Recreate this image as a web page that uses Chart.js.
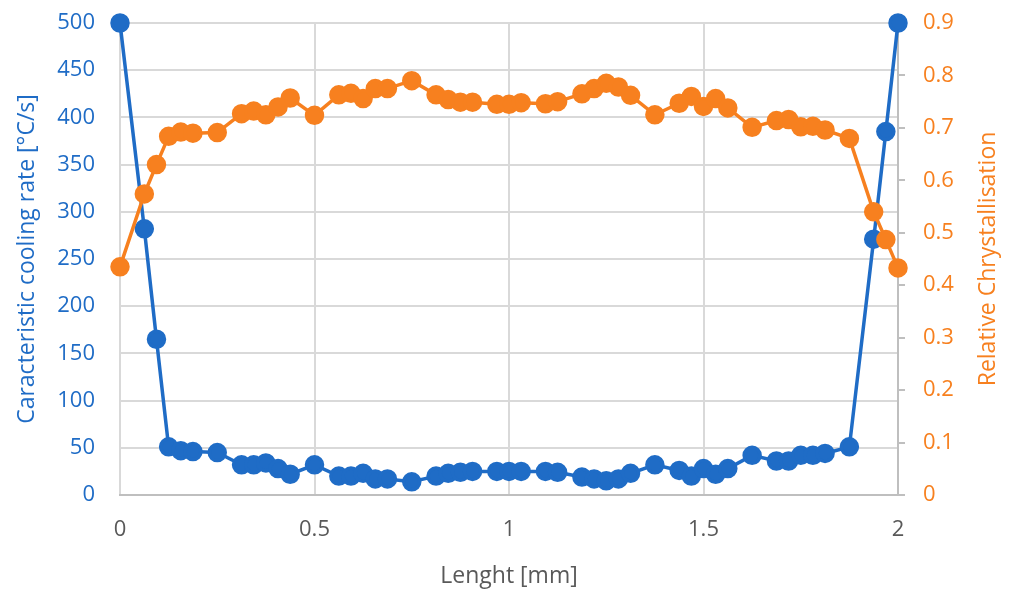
<!DOCTYPE html>
<html>
<head>
<meta charset="utf-8">
<script src="https://cdn.jsdelivr.net/npm/chart.js@4/dist/chart.umd.min.js"></script>
<style>
  html, body { margin: 0; padding: 0; background: #fff; }
  #wrap { width: 1012px; height: 590px; }
</style>
</head>
<body>
<div id="wrap"><canvas id="cooling"></canvas></div>
<script>
// positions along the sample [mm]
const lengthMm = [0, 0.0625, 0.09375, 0.125, 0.15625, 0.1875, 0.25, 0.3125, 0.34375, 0.375, 0.40625, 0.4375,
  0.5, 0.5625, 0.59375, 0.625, 0.65625, 0.6875, 0.75, 0.8125, 0.84375, 0.875, 0.90625, 0.96875,
  1, 1.03125, 1.09375, 1.125, 1.1875, 1.21875, 1.25, 1.28125, 1.3125, 1.375, 1.4375, 1.46875,
  1.5, 1.53125, 1.5625, 1.625, 1.6875, 1.71875, 1.75, 1.78125, 1.8125, 1.875, 1.9375, 1.96875, 2];

// cooling rate [°C/s]
const coolingRate = [500, 282, 165, 51, 47, 46, 45, 32, 32, 34, 28, 22,
  32, 20, 20, 23, 17, 17, 14, 20, 23, 24, 25, 25,
  25, 25, 25, 24, 19, 17, 15, 17, 23, 32, 26, 20,
  28, 22, 28, 42, 36, 36, 42, 42, 44, 51, 271, 385, 500];

// relative crystallisation
const crystallisation = [0.435, 0.574, 0.630, 0.684, 0.692, 0.690, 0.691, 0.727, 0.732, 0.725, 0.740, 0.757,
  0.724, 0.763, 0.766, 0.756, 0.775, 0.775, 0.790, 0.763, 0.754, 0.749, 0.749, 0.745,
  0.745, 0.748, 0.746, 0.750, 0.765, 0.775, 0.785, 0.778, 0.762, 0.725, 0.747, 0.760,
  0.741, 0.756, 0.738, 0.701, 0.714, 0.716, 0.702, 0.703, 0.696, 0.680, 0.540, 0.487, 0.433];

const blue = '#1f6cc6';
const orange = '#f7801f';
const fontFam = "'Open Sans', 'Liberation Sans', sans-serif";

const toXY = (ys) => ys.map((y, i) => ({ x: lengthMm[i], y }));

// right title reads bottom-to-top, so draw it ourselves
const rightTitle = {
  id: 'rightTitle',
  afterDraw(chart) {
    const c = chart.ctx;
    const a = chart.chartArea;
    c.save();
    c.translate(988, (a.top + a.bottom) / 2);
    c.rotate(-Math.PI / 2);
    c.font = '23px ' + fontFam;
    c.fillStyle = orange;
    c.textAlign = 'center';
    c.textBaseline = 'middle';
    c.fillText('Relative Chrystallisation', 0, 0);
    c.restore();
  }
};

new Chart(document.getElementById('cooling'), {
  type: 'line',
  data: {
    datasets: [
      {
        label: 'Relative Chrystallisation',
        data: toXY(crystallisation),
        yAxisID: 'y2',
        borderColor: orange,
        backgroundColor: orange,
        borderWidth: 3.5,
        pointRadius: 8,
        pointHoverRadius: 8,
        clip: false
      },
      {
        label: 'Caracteristic cooling rate',
        data: toXY(coolingRate),
        yAxisID: 'y',
        borderColor: blue,
        backgroundColor: blue,
        borderWidth: 3.5,
        pointRadius: 8,
        pointHoverRadius: 8,
        clip: false
      }
    ]
  },
  options: {
    responsive: true,
    maintainAspectRatio: false,
    animation: false,
    layout: { padding: { top: 23, left: 0, right: 0, bottom: 0 } },
    plugins: { legend: { display: false }, tooltip: { enabled: false } },
    scales: {
      x: {
        type: 'linear',
        min: 0, max: 2,
        ticks: { stepSize: 0.5, color: '#595959', font: { family: fontFam, size: 22 }, padding: 22,
          callback: (v) => String(v) },
        grid: { color: '#d9d9d9', lineWidth: 2, drawTicks: false },
        border: { color: '#bfbfbf', width: 2 },
        title: { display: true, text: 'Lenght [mm]', color: '#595959', font: { family: fontFam, size: 23 }, padding: { bottom: 0 } },
        afterFit(s) { s.height = 95; s.paddingLeft = 0; s.paddingRight = 0; }
      },
      y: {
        position: 'left',
        min: 0, max: 500,
        ticks: { stepSize: 50, color: blue, font: { family: fontFam, size: 22 }, padding: 25 },
        grid: { color: '#d9d9d9', lineWidth: 2, drawTicks: false },
        border: { display: false },
        title: { display: true, text: 'Caracteristic cooling rate [°C/s]', color: blue, font: { family: fontFam, size: 23 }, padding: { top: 14 } },
        afterFit(s) { s.width = 120; s.paddingTop = 0; s.paddingBottom = 0; }
      },
      y2: {
        position: 'right',
        min: 0, max: 0.9,
        ticks: { stepSize: 0.1, color: orange, font: { family: fontFam, size: 22 }, padding: 18 },
        grid: { drawOnChartArea: false, color: '#bfbfbf', lineWidth: 2, tickLength: 7 },
        border: { color: '#bfbfbf', width: 2 },
        afterFit(s) { s.width = 114; s.paddingTop = 0; s.paddingBottom = 0; }
      }
    }
  },
  plugins: [rightTitle]
});
</script>
</body>
</html>
